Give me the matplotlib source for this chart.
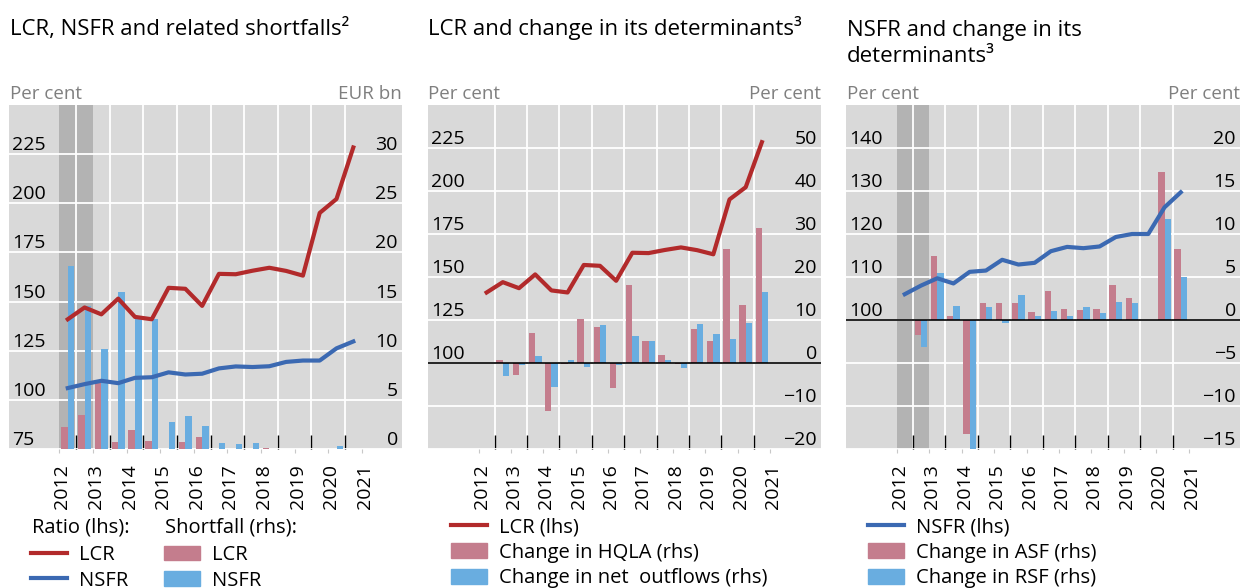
import numpy as np
import matplotlib.pyplot as plt
from matplotlib.lines import Line2D
from matplotlib.patches import Patch
from matplotlib.transforms import ScaledTranslation

plt.rcParams['font.family'] = ['Open Sans', 'DejaVu Sans']
plt.rcParams['font.size'] = 14

# semi-annual observations, 18 periods
period = np.arange(18)
years = [str(y) for y in range(2012, 2022)]
year_pos = np.arange(10) * 2 - 0.5
grid_pos = np.arange(9) * 2 + 0.5

lcr = [141.0, 147.0, 143.5, 151.5, 142.2, 141.0, 157.0, 156.5, 147.8,
       164.1, 163.9, 165.7, 167.2, 165.6, 163.2, 195.1, 202.2, 228.4]
nsfr = [106.0, 108.0, 109.7, 108.5, 111.2, 111.5, 114.0, 112.9, 113.3,
        116.0, 117.0, 116.7, 117.1, 119.3, 120.0, 120.0, 126.2, 129.7]

# shortfalls, EUR bn
short_lcr = [2.2, 3.5, 6.9, 0.7, 1.9, 0.8, 0, 0.7, 1.25,
             0, 0, 0, 0.1, 0, 0, 0, 0, 0]
short_nsfr = [18.6, 14.5, 10.2, 16.0, 13.3, 13.2, 2.7, 3.4, 2.3,
              0.6, 0.5, 0.6, 0, 0, 0, 0, 0.3, 0]

# LCR determinants, per cent
chg_hqla = [np.nan, 0.8, -2.7, 6.9, -11.2, -0.2, 10.2, 8.4, -5.9,
            18.1, 5.2, 1.9, -0.2, 7.9, 5.2, 26.4, 13.5, 31.5]
chg_outflows = [np.nan, -3.1, -0.5, 1.7, -5.6, 0.8, -1.0, 8.8, -0.5,
                6.3, 5.2, 0.8, -1.2, 9.1, 6.8, 5.6, 9.3, 16.5]

# NSFR determinants, per cent
chg_asf = [np.nan, -1.75, 7.4, 0.45, -13.2, 2.0, 2.0, 2.0, 0.9,
           3.4, 1.3, 1.2, 1.3, 4.1, 2.6, np.nan, 17.2, 8.2]
chg_rsf = [np.nan, -3.1, 5.5, 1.6, -16.5, 1.5, -0.3, 2.9, 0.45,
           1.1, 0.45, 1.5, 0.85, 2.1, 2.0, np.nan, 11.7, 5.0]

BG = '#d9d9d9'
SHADE = '#b3b3b3'
RED = '#b22a2b'
BLUE = '#3b69b2'
PINK = '#c47d8d'
LBLUE = '#69ade0'
GREY_TXT = '#7f7f7f'

W, H = 1243, 588
fig = plt.figure(figsize=(W / 100, H / 100), dpi=100)


def px_rect(l, t, r, b):
    return [l / W, 1 - b / H, (r - l) / W, (b - t) / H]


def make_panel(rect, xlim, ylim_l, lticks, ylim_r, rticks):
    axb = fig.add_axes(px_rect(*rect))
    axb.set_facecolor(BG)
    axl = axb.twinx()
    axl.yaxis.tick_left()
    axb.yaxis.tick_right()
    for a in (axb, axl):
        for s in a.spines.values():
            s.set_visible(False)
    axb.set_xlim(xlim)
    axl.set_ylim(ylim_l)
    axl.set_yticks(lticks)
    axb.set_ylim(ylim_r)
    axb.set_yticks(rticks)
    axb.set_xticks(year_pos)
    axb.set_xticklabels(years, rotation=90)
    axb.set_xticks(grid_pos, minor=True)
    axb.tick_params(axis='x', which='major', length=3, color='#c8c8c8', pad=8)
    axb.tick_params(axis='x', which='minor', direction='in', length=10,
                    width=1, color='black')
    axb.grid(axis='x', which='minor', color='white', lw=1.3)
    axb.grid(axis='y', which='major', color='white', lw=1.3)
    axb.set_axisbelow(True)
    axb.tick_params(axis='y', length=0, pad=-3)
    axl.tick_params(axis='y', length=0, pad=-2.2)
    for lbl in axb.get_yticklabels():
        lbl.set_ha('right')
        lbl.set_va('bottom')
    for lbl in axl.get_yticklabels():
        lbl.set_ha('left')
        lbl.set_va('bottom')
    off = ScaledTranslation(3 / 100, 0, fig.dpi_scale_trans)
    for lbl in axb.get_xticklabels():
        lbl.set_transform(lbl.get_transform() + off)
    return axb, axl


bw = 0.39

# panel 1
axb, axl = make_panel((9, 105, 402, 449), (-3.5, 19.9),
                      (75, 250), [75, 100, 125, 150, 175, 200, 225],
                      (0, 35), [0, 5, 10, 15, 20, 25, 30])
axb.axvspan(-0.5, 1.5, color=SHADE, zorder=0.2, lw=0)
axb.bar(period - bw / 2, short_lcr, width=bw, color=PINK)
axb.bar(period + bw / 2, short_nsfr, width=bw, color=LBLUE)
axl.plot(period, lcr, color=RED, lw=3)
axl.plot(period, nsfr, color=BLUE, lw=3)

# panel 2
axb, axl = make_panel((428, 105, 821, 449), (-3.62, 20.65),
                      (50, 250), [100, 125, 150, 175, 200, 225],
                      (-20, 60), [-20, -10, 0, 10, 20, 30, 40, 50])
axb.bar(period - bw / 2, chg_hqla, width=bw, color=PINK)
axb.bar(period + bw / 2, chg_outflows, width=bw, color=LBLUE)
axb.axhline(0, color='black', lw=1.2, zorder=2)
axl.plot(period, lcr, color=RED, lw=3)

# panel 3
axb, axl = make_panel((846, 105, 1240, 449), (-3.62, 20.65),
                      (70, 150), [100, 110, 120, 130, 140],
                      (-15, 25), [-15, -10, -5, 0, 5, 10, 15, 20])
axb.axvspan(-0.5, 1.5, color=SHADE, zorder=0.2, lw=0)
axb.bar(period - bw / 2, chg_asf, width=bw, color=PINK)
axb.bar(period + bw / 2, chg_rsf, width=bw, color=LBLUE)
axb.axhline(0, color='black', lw=1.2, zorder=2)
axl.plot(period, nsfr, color=BLUE, lw=3)

# titles and unit labels
fig.text(10 / W, 1 - 35 / H, 'LCR, NSFR and related shortfalls²', fontsize=16, va='baseline')
fig.text(428 / W, 1 - 35 / H, 'LCR and change in its determinants³', fontsize=16, va='baseline')
fig.text(847 / W, 1 - 36 / H, 'NSFR and change in its', fontsize=16, va='baseline')
fig.text(847 / W, 1 - 62 / H, 'determinants³', fontsize=16, va='baseline')
for x, ha, s in [(10, 'left', 'Per cent'), (402, 'right', 'EUR bn'),
                 (428, 'left', 'Per cent'), (821, 'right', 'Per cent'),
                 (847, 'left', 'Per cent'), (1240, 'right', 'Per cent')]:
    fig.text(x / W, 1 - 99 / H, s, fontsize=13.5, color=GREY_TXT, ha=ha, va='baseline')

# legends
leg_kw = dict(loc='upper left', frameon=False, borderpad=0, borderaxespad=0,
              handlelength=1.8, handleheight=0.75, handletextpad=0.6,
              labelspacing=0.28, fontsize=14.5)
fig.text(32 / W, 1 - 533 / H, 'Ratio (lhs):', fontsize=14.5, va='baseline')
fig.text(165 / W, 1 - 533 / H, 'Shortfall (rhs):', fontsize=14.5, va='baseline')
fig.legend([Line2D([], [], color=RED, lw=3), Line2D([], [], color=BLUE, lw=3),
            Patch(color=PINK), Patch(color=LBLUE)],
           ['LCR', 'NSFR', 'LCR', 'NSFR'], ncol=2, columnspacing=1.75,
           bbox_to_anchor=(31 / W, 1 - 545 / H), **leg_kw)
fig.legend([Line2D([], [], color=RED, lw=3), Patch(color=PINK), Patch(color=LBLUE)],
           ['LCR (lhs)', 'Change in HQLA (rhs)', 'Change in net  outflows (rhs)'],
           bbox_to_anchor=(451 / W, 1 - 517 / H), **leg_kw)
fig.legend([Line2D([], [], color=BLUE, lw=3), Patch(color=PINK), Patch(color=LBLUE)],
           ['NSFR (lhs)', 'Change in ASF (rhs)', 'Change in RSF (rhs)'],
           bbox_to_anchor=(868 / W, 1 - 517 / H), **leg_kw)

fig.savefig('out.png', dpi=100)
